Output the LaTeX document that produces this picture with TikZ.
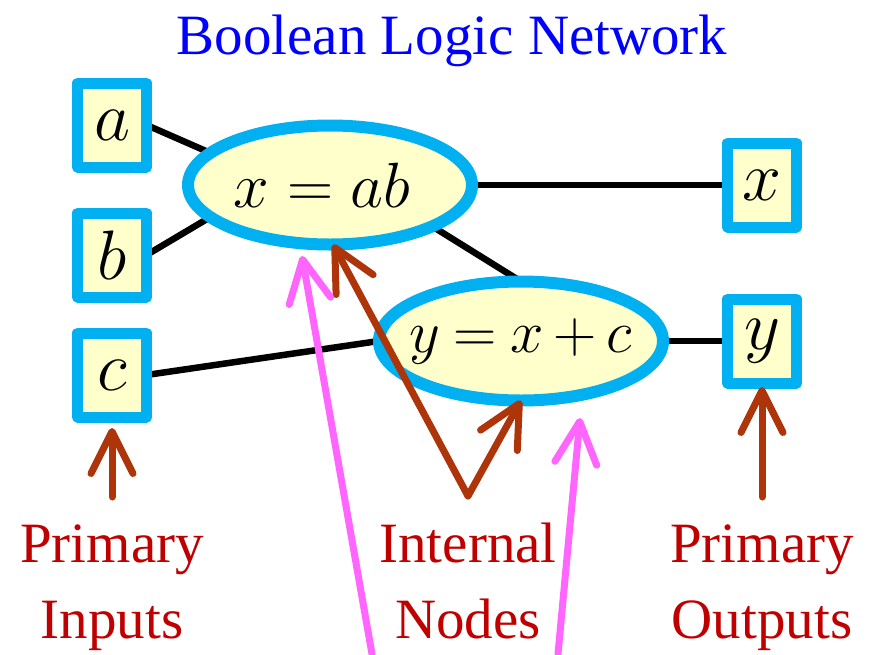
\RequirePackage{fix-cm}
\documentclass[tikz,border=0pt]{standalone}
\usepackage{fontspec}
\setmainfont{Liberation Serif}
\usetikzlibrary{
  shapes.geometric,
  arrows.meta,
  backgrounds
}
\definecolor{boxblue}{RGB}{0,176,240}
\definecolor{boxfill}{RGB}{255,255,204}
\definecolor{ptrbrown}{RGB}{174,52,10}
\definecolor{ptrpink}{RGB}{255,102,255}
\definecolor{lblred}{RGB}{192,0,0}

\begin{document}
\begin{tikzpicture}[x = 1pt, y = -1pt]
  \tikzset{
    iobox/.style = {draw = boxblue, fill = boxfill, line width = 11pt, line join = round, minimum width = 69pt, minimum height = 84pt, inner sep = 0pt, outer sep = 0pt, font = \fontsize{70}{72}\selectfont},
    intnode/.style = {ellipse, draw = boxblue, fill = boxfill, line width = 12pt, minimum width = 284pt, minimum height = 119pt, inner sep = 0pt, outer sep = 0pt},
    eqn/.style = {font = \fontsize{64}{66}\selectfont},
    wire/.style = {line width = 6.5pt},
    ptr/.style = {line width = 7pt, line cap = round, -{Straight Barb[round, length = 42pt, width = 42pt]}},
    lbl/.style = {align = center, text = lblred, anchor = base, font = \fontsize{57}{76}\selectfont}
  }
  \useasboundingbox (0,0) rectangle (871,654);

  \node[anchor = base, text = blue, font = \fontsize{57}{60}\selectfont] (title) at (452,54) {Boolean Logic Network};

  % inputs and outputs
  \node[iobox] (ina) at (112,125) {$a$};
  \node[iobox] (inb) at (112,255) {$b$};
  \node[iobox] (inc) at (112,375) {$c$};
  \node[iobox] (outx) at (762,185) {$x$};
  \node[iobox] (outy) at (762,341) {$y$};

  % internal nodes
  \node[intnode, label = {[eqn, xshift = -8pt]center:$x = ab$}] (nodex) at (330,185) {};
  \node[intnode, label = {[eqn, font = \fontsize{60}{62}\selectfont]center:$\thickmuskip=4mu \medmuskip=3mu y = x + c$}] (nodey) at (521,341) {};

  \begin{scope}[on background layer]
    \draw[wire] (ina.east) -- (nodex.165);
    \draw[wire] (inb.east) -- (nodex.195);
    \draw[wire] (nodex.east) -- (outx.west);
    \draw[wire] (nodex.-22) -- (nodey.north);
    \draw[wire] (inc.east) -- (nodey.west);
    \draw[wire] (nodey.east) -- (outy.west);
  \end{scope}

  \node[lbl] (lblin) at (112,638) {Primary\\Inputs};
  \node[lbl] (lblint) at (468,638) {Internal\\Nodes};
  \node[lbl] (lblout) at (762,638) {Primary\\Outputs};

  \coordinate (inbase) at (112,497);
  \coordinate (intbase) at (468,496);
  \coordinate (outbase) at (762,497);
  \coordinate (pinkbaseA) at (372,654);
  \coordinate (pinkbaseB) at (558,654);
  \coordinate (pinktipA) at (302,256);
  \coordinate (pinktipB) at (580,418);

  \draw[ptr, ptrbrown, shorten > = 11pt] (inbase) -- (inc.south);
  \draw[ptr, ptrbrown, shorten > = 4pt] (outbase) -- (outy.south);
  \draw[ptr, ptrbrown] (intbase) -- (nodex.-87);
  \draw[ptr, ptrbrown] (intbase) -- (nodey.south);
  \draw[ptr, ptrpink] (pinkbaseA) -- (pinktipA);
  \draw[ptr, ptrpink] (pinkbaseB) -- (pinktipB);
\end{tikzpicture}
\end{document}
